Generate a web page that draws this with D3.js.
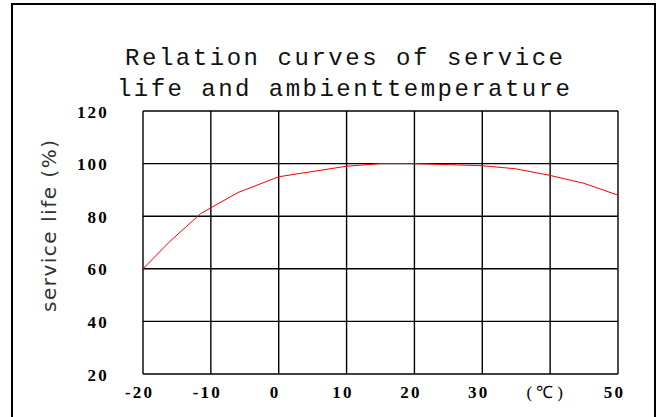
<!DOCTYPE html>
<html>
<head>
<meta charset="utf-8">
<script src="https://cdn.jsdelivr.net/npm/d3@7"></script>
<style>
  body { margin: 0; background: #fff; }
  svg { display: block; }
</style>
</head>
<body>
<svg id="chart"></svg>
<script>
const titleLines = ["Relation curves of service", "life and ambienttemperature"];
const yTitle = "service life (%)";
const temps = [-20, -16, -11.5, -6, 0, 10, 15, 20, 30, 35, 40, 45, 50];
const life = [60, 70.5, 81, 89, 95, 99, 100, 100, 99.2, 98, 95.5, 92.5, 88];
const xTicks = [-20, -10, 0, 10, 20, 30, 40, 50];
const xTickLabels = ["-20", "-10", "0", "10", "20", "30", "(\u2103)", "50"];
const yTicks = [20, 40, 60, 80, 100, 120];

const width = 662;
const height = 417;
const plotLeft = 143, plotRight = 618, plotTop = 111, plotBottom = 374;

const svg = d3.select("#chart")
    .attr("width", width)
    .attr("height", height);

// outer frame
svg.append("path")
    .attr("d", "M12,420 L12,4 L655,4 L655,420")
    .attr("fill", "none")
    .attr("stroke", "#000")
    .attr("stroke-width", 2);

const x = d3.scaleLinear().domain([-20, 50]).range([plotLeft, plotRight]);
const y = d3.scaleLinear().domain([20, 120]).range([plotBottom, plotTop]);

// title, stretched to the width of the original lines
const titleSpans = [[125, 438], [117, 453]];
svg.append("g").selectAll("text")
    .data(titleLines)
    .enter()
    .append("text")
    .attr("x", (d, i) => titleSpans[i][0])
    .attr("y", (d, i) => 65 + i * 31)
    .attr("textLength", (d, i) => titleSpans[i][1])
    .attr("lengthAdjust", "spacing")
    .style("font-family", "'Liberation Mono', monospace")
    .style("font-size", "24px")
    .attr("fill", "#111")
    .text(d => d);

// grid
const grid = svg.append("g").attr("stroke", "#000").attr("stroke-width", 1.4);
grid.selectAll(".vline")
    .data(xTicks)
    .enter()
    .append("line")
    .attr("x1", d => x(d)).attr("x2", d => x(d))
    .attr("y1", plotTop).attr("y2", plotBottom);
grid.selectAll(".hline")
    .data(yTicks)
    .enter()
    .append("line")
    .attr("x1", plotLeft).attr("x2", plotRight)
    .attr("y1", d => y(d)).attr("y2", d => y(d));

// axis labels
const xAxis = d3.axisBottom(x).tickValues(xTicks)
    .tickSize(0).tickPadding(0)
    .tickFormat((d, i) => xTickLabels[i]);
const gx = svg.append("g")
    .attr("transform", `translate(-4, 398)`)
    .call(xAxis);
gx.select(".domain").remove();
gx.selectAll("text")
    .attr("dy", 0)
    .style("font-family", "'Liberation Serif', serif")
    .style("font-size", "17px")
    .style("font-weight", (d, i) => xTickLabels[i].startsWith("(") ? "normal" : "bold")
    .style("letter-spacing", (d, i) => xTickLabels[i].startsWith("(") ? "4px" : "2.2px")
    .attr("fill", "#000");

const yAxis = d3.axisLeft(y).tickValues(yTicks).tickSize(0).tickPadding(0);
const gy = svg.append("g")
    .attr("transform", `translate(109, 0)`)
    .call(yAxis);
gy.select(".domain").remove();
gy.selectAll("text")
    .attr("dy", "0.36em")
    .style("font-family", "'Liberation Serif', serif")
    .style("font-size", "17px")
    .style("font-weight", "bold")
    .style("letter-spacing", "2.2px")
    .attr("fill", "#000");

svg.append("text")
    .attr("transform", "translate(56, 312) rotate(-90)")
    .attr("textLength", 172)
    .attr("lengthAdjust", "spacing")
    .style("font-family", "'DejaVu Sans', sans-serif")
    .style("font-size", "20px")
    .attr("fill", "#333")
    .text(yTitle);

// curve
const line = d3.line()
    .x((d, i) => x(temps[i]))
    .y(d => y(d));
svg.append("path")
    .datum(life)
    .attr("d", line)
    .attr("fill", "none")
    .attr("stroke", "#f00")
    .attr("stroke-width", 1);
</script>
</body>
</html>
